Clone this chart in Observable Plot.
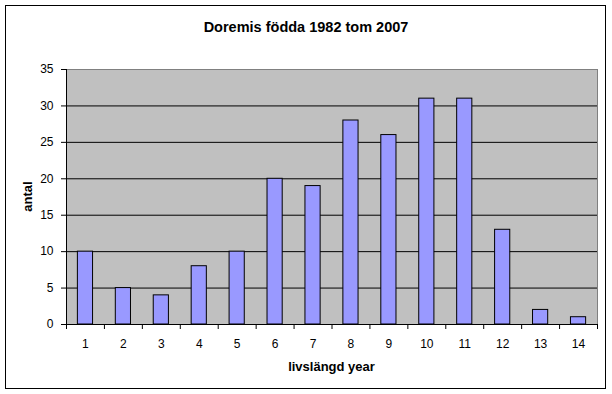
<!DOCTYPE html>
<html>
<head>
<meta charset="utf-8">
<script src="https://cdn.jsdelivr.net/npm/d3@7"></script>
<script src="https://cdn.jsdelivr.net/npm/@observablehq/plot@0.6"></script>
<style>
  body { margin: 0; background: #fff; }
  svg { display: block; }
</style>
</head>
<body>
<div id="chart"></div>
<script>
const years = [1, 2, 3, 4, 5, 6, 7, 8, 9, 10, 11, 12, 13, 14];
const counts = [10, 5, 4, 8, 10, 20, 19, 28, 26, 31, 31, 13, 2, 1];
const yTicks = [0, 5, 10, 15, 20, 25, 30, 35];
const titleText = "Doremis födda 1982 tom 2007";
const xLabel = "livslängd year";
const yLabel = "antal";

const data = years.map((y, i) => ({year: y, count: counts[i]}));
const boundaries = [0.5, ...years.map(y => y + 0.5)];

const font = "'Liberation Sans', Arial, sans-serif";

const chart = Plot.plot({
  width: 612,
  height: 394,
  marginLeft: 66,
  marginRight: 15,
  marginTop: 69,
  marginBottom: 70,
  x: {domain: [0.5, 14.5]},
  y: {domain: [0, 35]},
  style: {fontFamily: font, fontSize: "12px", color: "#000", background: "#fff", overflow: "visible"},
  marks: [
    Plot.frame({fill: "#c0c0c0", stroke: null}),
    Plot.ruleY(yTicks.slice(1, -1), {stroke: "#000", strokeWidth: 1}),
    Plot.rectY(data, {x1: d => d.year - 0.2, x2: d => d.year + 0.2, y: "count", fill: "#9999ff", stroke: "#000", strokeWidth: 1}),
    Plot.ruleY([35], {stroke: "#808080"}),
    Plot.ruleX([14.5], {stroke: "#808080"}),
    Plot.ruleX([0.5], {stroke: "#000"}),
    Plot.ruleY([0], {stroke: "#000"}),
    Plot.axisY({ticks: yTicks, tickSize: 5, tickPadding: 8, label: null, stroke: "#000", fill: "#000"}),
    Plot.axisX({ticks: boundaries, tickSize: 5, tickFormat: () => "", label: null, stroke: "#000"}),
    Plot.axisX({ticks: years, tickSize: 0, tickPadding: 15, label: null, fill: "#000"})
  ]
});

document.getElementById("chart").appendChild(chart);

const svg = d3.select(chart);
svg.append("rect")
  .attr("x", 5.5).attr("y", 5.5).attr("width", 600).attr("height", 383)
  .attr("fill", "none").attr("stroke", "#000").attr("stroke-width", 1);
svg.append("text")
  .attr("x", 306).attr("y", 32)
  .attr("text-anchor", "middle")
  .attr("font-family", font).attr("font-size", 14.5).attr("font-weight", "bold")
  .text(titleText);
svg.append("text")
  .attr("x", 331.5).attr("y", 371)
  .attr("text-anchor", "middle")
  .attr("font-family", font).attr("font-size", 13).attr("font-weight", "bold")
  .text(xLabel);
svg.append("text")
  .attr("transform", "translate(32,196.5) rotate(-90)")
  .attr("text-anchor", "middle")
  .attr("font-family", font).attr("font-size", 13).attr("font-weight", "bold")
  .text(yLabel);
</script>
</body>
</html>
